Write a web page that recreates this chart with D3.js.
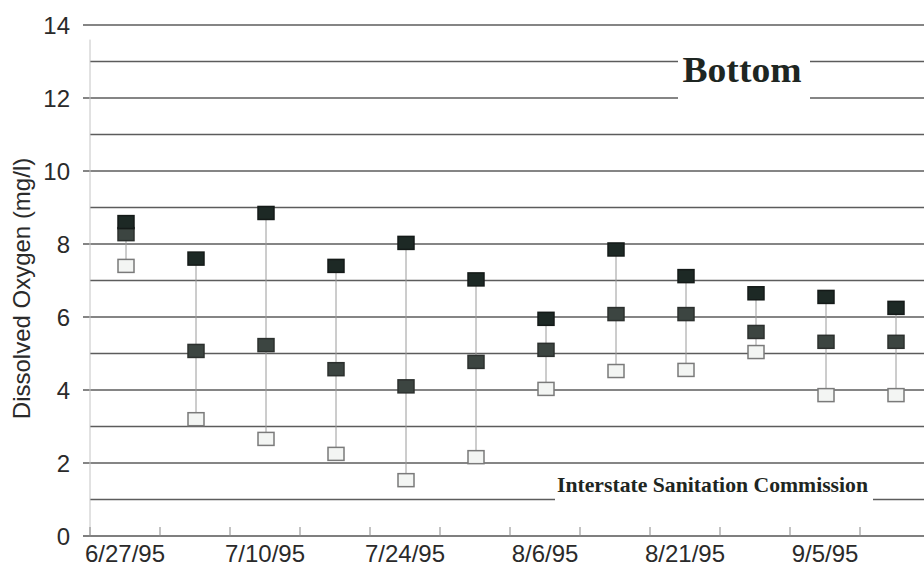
<!DOCTYPE html>
<html>
<head>
<meta charset="utf-8">
<script src="https://cdn.jsdelivr.net/npm/d3@7/dist/d3.min.js"></script>
<style>
  html, body { margin: 0; padding: 0; background: #fff; }
  svg { display: block; }
</style>
</head>
<body>
<svg id="chart" width="924" height="568"></svg>
<script>
// ---- data ----
const dates = ["6/27/95","7/3/95","7/10/95","7/17/95","7/24/95","7/31/95",
               "8/6/95","8/14/95","8/21/95","8/28/95","9/5/95","9/12/95"];
const labelDates = ["6/27/95","7/10/95","7/24/95","8/6/95","8/21/95","9/5/95"];
const maxDO  = [8.6, 7.6, 8.85, 7.4, 8.03, 7.03, 5.95, 7.85, 7.12, 6.65, 6.55, 6.25];
const meanDO = [8.27, 5.07, 5.23, 4.57, 4.1, 4.77, 5.1, 6.08, 6.08, 5.59, 5.32, 5.32];
const minDO  = [7.4, 3.2, 2.66, 2.25, 1.53, 2.16, 4.03, 4.52, 4.55, 5.04, 3.86, 3.86];
const yTicks = [0, 2, 4, 6, 8, 10, 12, 14];
const yGrid  = [1,2,3,4,5,6,7,8,9,10,11,12,13,14];

const rows = dates.map((d, i) => ({date: d, max: maxDO[i], mean: meanDO[i], min: minDO[i]}));

// ---- layout ----
const svg = d3.select("#chart");
const pLeft = 90, pRight = 930, pTop = 25, pBottom = 536;
const x = d3.scaleBand().domain(dates).range([pLeft, pRight]).padding(0);
const y = d3.scaleLinear().domain([0, 14]).range([pBottom, pTop]);
const font = "'Liberation Sans', Arial, sans-serif";
const serif = "'Liberation Serif', 'Times New Roman', serif";

// horizontal gridlines
svg.append("g").selectAll("line").data(yGrid).join("line")
  .attr("x1", d => d % 2 === 0 ? pLeft - 7 : pLeft)
  .attr("x2", 924)
  .attr("y1", d => y(d)).attr("y2", d => y(d))
  .attr("stroke", "#5c5c5c").attr("stroke-width", 1.3);

// left axis (faint)
svg.append("line").attr("x1", pLeft).attr("x2", pLeft).attr("y1", y(13.6)).attr("y2", pBottom)
  .attr("stroke", "#c4c4c4").attr("stroke-width", 1);

// bottom axis
svg.append("line").attr("x1", pLeft - 7).attr("x2", 924).attr("y1", pBottom).attr("y2", pBottom)
  .attr("stroke", "#555").attr("stroke-width", 1.5);
const tickPos = dates.map(d => x(d));
svg.append("g").selectAll("line").data(tickPos).join("line")
  .attr("x1", d => d).attr("x2", d => d)
  .attr("y1", pBottom - 9).attr("y2", pBottom + 1)
  .attr("stroke", "#888").attr("stroke-width", 1);

// y tick labels
svg.append("g").selectAll("text").data(yTicks).join("text")
  .attr("x", 70).attr("y", d => y(d))
  .attr("text-anchor", "end").attr("dominant-baseline", "central")
  .attr("font-family", font).attr("font-size", 24).attr("fill", "#2a2a2a")
  .text(d => d);

// x tick labels
svg.append("g").selectAll("text").data(labelDates).join("text")
  .attr("x", d => x(d) + x.bandwidth() / 2).attr("y", 562)
  .attr("text-anchor", "middle")
  .attr("font-family", font).attr("font-size", 24).attr("fill", "#2a2a2a")
  .text(d => d);

// y axis title
svg.append("text")
  .attr("transform", `translate(30, ${(y(0) + y(14)) / 2 + 8}) rotate(-90)`)
  .attr("text-anchor", "middle")
  .attr("font-family", font).attr("font-size", 24).attr("fill", "#2a2a2a")
  .text("Dissolved Oxygen (mg/l)");

// title box "Bottom"
svg.append("rect").attr("x", 678).attr("y", 50).attr("width", 132).attr("height", 52).attr("fill", "#fff");
svg.append("text").attr("x", 742).attr("y", 82).attr("text-anchor", "middle")
  .attr("font-family", serif).attr("font-weight", "bold").attr("font-size", 36).attr("fill", "#1e2622")
  .attr("textLength", 119).attr("lengthAdjust", "spacingAndGlyphs")
  .text("Bottom");

// credit box
svg.append("rect").attr("x", 555).attr("y", 468).attr("width", 318).attr("height", 38).attr("fill", "#fff");
svg.append("text").attr("x", 557).attr("y", 492)
  .attr("font-family", serif).attr("font-weight", "bold").attr("font-size", 22).attr("fill", "#1e2622")
  .attr("textLength", 311).attr("lengthAdjust", "spacingAndGlyphs")
  .text("Interstate Sanitation Commission");

// connectors
const cx = d => x(d.date) + x.bandwidth() / 2 + 1;
svg.append("g").selectAll("line").data(rows).join("line")
  .attr("x1", cx).attr("x2", cx)
  .attr("y1", d => y(d.max)).attr("y2", d => y(d.min))
  .attr("stroke", "#9a9a9a").attr("stroke-width", 1);

// markers
const W = 16, H = 13;
function markers(key, fill, stroke) {
  svg.append("g").selectAll("rect").data(rows).join("rect")
    .attr("x", d => cx(d) - W / 2).attr("y", d => y(d[key]) - H / 2)
    .attr("width", W).attr("height", H)
    .attr("fill", fill).attr("stroke", stroke).attr("stroke-width", 1.5);
}
markers("min", "#f3f5f3", "#7a7a7a");
markers("mean", "#3c4541", "#2c302e");
markers("max", "#1d2925", "#141a18");
</script>
</body>
</html>
